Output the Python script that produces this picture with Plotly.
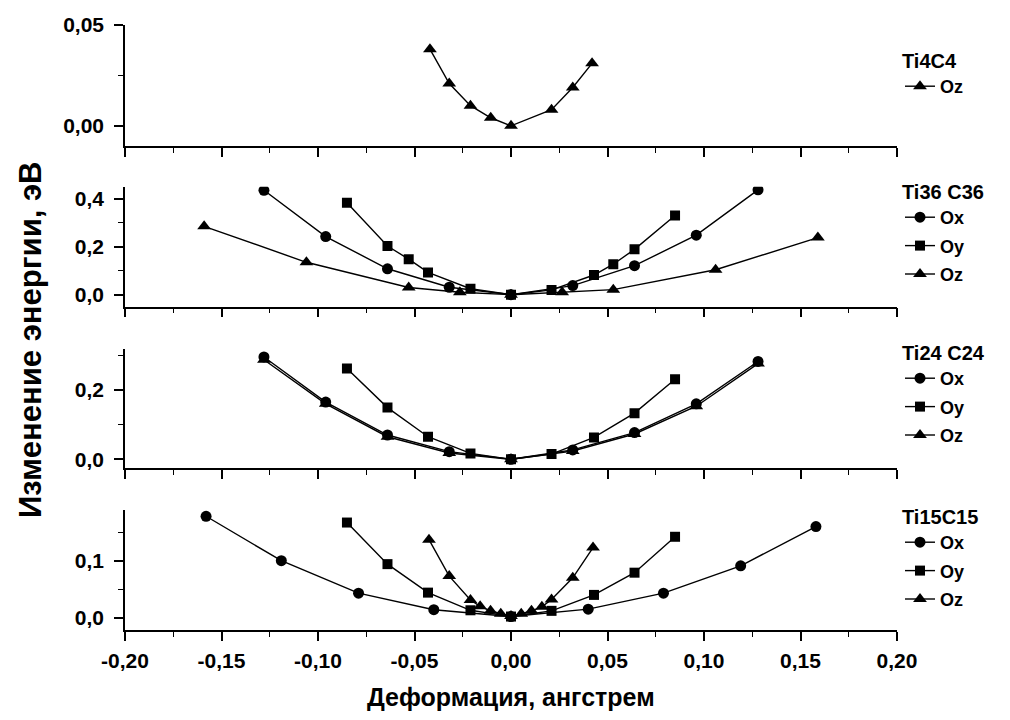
import plotly.graph_objects as go

# ---------------- data ----------------
# Panel 1: Ti4C4
t4_oz_x = [-0.042, -0.032, -0.021, -0.0105, 0.0, 0.021, 0.032, 0.042]
t4_oz_y = [0.038, 0.021, 0.010, 0.004, 0.0, 0.008, 0.019, 0.031]

# Panel 2: Ti36 C36
t36_ox_x = [-0.128, -0.096, -0.064, -0.032, 0.0, 0.032, 0.064, 0.096, 0.128]
t36_ox_y = [0.435, 0.242, 0.108, 0.031, 0.0, 0.038, 0.121, 0.248, 0.437]
t36_oy_x = [-0.085, -0.064, -0.053, -0.043, -0.021, 0.0, 0.021, 0.043, 0.053, 0.064, 0.085]
t36_oy_y = [0.383, 0.203, 0.148, 0.093, 0.025, 0.0, 0.020, 0.082, 0.127, 0.189, 0.330]
t36_oz_x = [-0.159, -0.106, -0.053, -0.0265, 0.0, 0.0265, 0.053, 0.106, 0.159]
t36_oz_y = [0.285, 0.135, 0.030, 0.010, 0.0, 0.010, 0.021, 0.104, 0.238]

# Panel 3: Ti24 C24
t24_ox_x = [-0.128, -0.096, -0.064, -0.032, 0.0, 0.032, 0.064, 0.096, 0.128]
t24_ox_y = [0.295, 0.165, 0.070, 0.022, 0.0, 0.027, 0.077, 0.160, 0.282]
t24_oy_x = [-0.085, -0.064, -0.043, -0.021, 0.0, 0.021, 0.043, 0.064, 0.085]
t24_oy_y = [0.262, 0.149, 0.065, 0.017, 0.0, 0.015, 0.063, 0.133, 0.231]
t24_oz_x = [-0.128, -0.096, -0.064, -0.032, 0.0, 0.032, 0.064, 0.096, 0.128]
t24_oz_y = [0.287, 0.160, 0.065, 0.018, 0.0, 0.024, 0.073, 0.153, 0.276]

# Panel 4: Ti15C15
t15_ox_x = [-0.158, -0.119, -0.079, -0.040, 0.0, 0.040, 0.079, 0.119, 0.158]
t15_ox_y = [0.178, 0.100, 0.043, 0.014, 0.002, 0.015, 0.043, 0.091, 0.160]
t15_oy_x = [-0.085, -0.064, -0.043, -0.021, 0.0, 0.021, 0.043, 0.064, 0.085]
t15_oy_y = [0.167, 0.094, 0.044, 0.013, 0.002, 0.012, 0.040, 0.079, 0.142]
t15_oz_x = [-0.0425, -0.032, -0.021, -0.016, -0.0106, -0.0053, 0.0,
            0.0053, 0.0106, 0.016, 0.021, 0.032, 0.0425]
t15_oz_y = [0.137, 0.073, 0.031, 0.020, 0.012, 0.007, 0.003,
            0.007, 0.012, 0.019, 0.032, 0.070, 0.123]

# tick labels
x_tick_vals = [-0.20, -0.15, -0.10, -0.05, 0.00, 0.05, 0.10, 0.15, 0.20]
x_tick_text = ["-0,20", "-0,15", "-0,10", "-0,05", "0,00", "0,05", "0,10", "0,15", "0,20"]

panel_titles = ["Ti4C4", "Ti36 C36", "Ti24 C24", "Ti15C15"]
x_title = "Деформация, ангстрем"
y_title = "Изменение энергии, эВ"

# ---------------- figure ----------------
FONT = "Liberation Sans, Arial, sans-serif"
W, H = 1010, 720
SYM = {"Ox": "circle", "Oy": "square", "Oz": "triangle-up"}
MSIZE = {"Ox": 11, "Oy": 10, "Oz": 12}

fig = go.Figure()

panels = [
    (1, [("Oz", t4_oz_x, t4_oz_y)]),
    (2, [("Ox", t36_ox_x, t36_ox_y), ("Oy", t36_oy_x, t36_oy_y), ("Oz", t36_oz_x, t36_oz_y)]),
    (3, [("Ox", t24_ox_x, t24_ox_y), ("Oy", t24_oy_x, t24_oy_y), ("Oz", t24_oz_x, t24_oz_y)]),
    (4, [("Ox", t15_ox_x, t15_ox_y), ("Oy", t15_oy_x, t15_oy_y), ("Oz", t15_oz_x, t15_oz_y)]),
]

for idx, series in panels:
    sfx = "" if idx == 1 else str(idx)
    for name, xs, ys in series:
        fig.add_trace(go.Scatter(
            x=xs, y=ys, name=name, mode="lines+markers",
            xaxis="x" + sfx, yaxis="y" + sfx, legend="legend" + sfx,
            legendgroup=f"p{idx}{name}",
            line=dict(color="black", width=1.4),
            marker=dict(symbol=SYM[name], size=MSIZE[name], color="black"),
        ))

# pixel geometry: (top_px, bottom_px, yrange, dtick, minor dtick, tickformat)
geo = [
    (25, 146, [-0.01, 0.05], 0.05, 0.025, ".2f"),
    (186.7, 306.7, [-0.05, 0.45], 0.2, 0.1, ".1f"),
    (349, 468.3, [-0.026, 0.318], 0.2, 0.1, ".1f"),
    (510, 630, [-0.0216, 0.189], 0.1, 0.05, ".1f"),
]
xdom = [125 / W, 897 / W]
tickfont = dict(family=FONT, size=21, color="black", weight="bold")

layout = dict(
    width=W, height=H, margin=dict(l=0, r=0, t=0, b=0, autoexpand=False),
    paper_bgcolor="white", plot_bgcolor="white",
    separators=", ", font=dict(family=FONT, color="black"),
    showlegend=True,
)
for i, (top, bot, yr, dt, mdt, fmt) in enumerate(geo, start=1):
    sfx = "" if i == 1 else str(i)
    layout["xaxis" + sfx] = dict(
        domain=xdom, range=[-0.2, 0.2], anchor="y" + sfx, automargin=False,
        showline=True, linecolor="black", linewidth=1.5,
        ticks="outside", ticklen=9, tickwidth=1.5, tickcolor="black",
        tickmode="array", tickvals=x_tick_vals, ticktext=x_tick_text,
        minor=dict(ticks="outside", ticklen=5, dtick=0.025, tick0=0,
                   tickcolor="black", tickwidth=1.2),
        showticklabels=(i == 4), tickfont=tickfont, ticklabelstandoff=2,
        showgrid=False, zeroline=False, fixedrange=True,
    )
    layout["yaxis" + sfx] = dict(
        domain=[1 - bot / H, 1 - top / H], range=yr, anchor="x" + sfx, automargin=False,
        showline=True, linecolor="black", linewidth=1.5,
        ticks="outside", ticklen=9, tickwidth=1.5, tickcolor="black",
        dtick=dt, tick0=0, tickformat=fmt,
        minor=dict(ticks="outside", ticklen=5, dtick=mdt, tickcolor="black", tickwidth=1.2),
        tickfont=tickfont, ticklabelstandoff=6,
        showgrid=False, zeroline=False, fixedrange=True,
    )

legend_tops = [42, 173, 334, 498]
for i, (top, title) in enumerate(zip(legend_tops, panel_titles), start=1):
    key = "legend" if i == 1 else f"legend{i}"
    layout[key] = dict(
        x=900 / W, y=1 - top / H, xanchor="left", yanchor="top",
        xref="container", yref="container",
        title=dict(text=title, font=dict(family=FONT, size=20, weight="bold", color="black")),
        font=dict(family=FONT, size=18, weight="bold", color="black"),
        bgcolor="rgba(0,0,0,0)", borderwidth=0, tracegroupgap=2,
        itemwidth=30,
    )

layout["annotations"] = [
    dict(text=y_title, x=30 / W, y=1 - 340 / H, xref="paper", yref="paper",
         textangle=-90, showarrow=False, xanchor="center", yanchor="middle",
         font=dict(family=FONT, size=31, weight="bold", color="black")),
    dict(text=x_title, x=511 / W, y=1 - 697 / H, xref="paper", yref="paper",
         showarrow=False, xanchor="center", yanchor="middle",
         font=dict(family=FONT, size=25, weight="bold", color="black")),
]

fig.update_layout(**layout)
fig.write_html("out.html")
